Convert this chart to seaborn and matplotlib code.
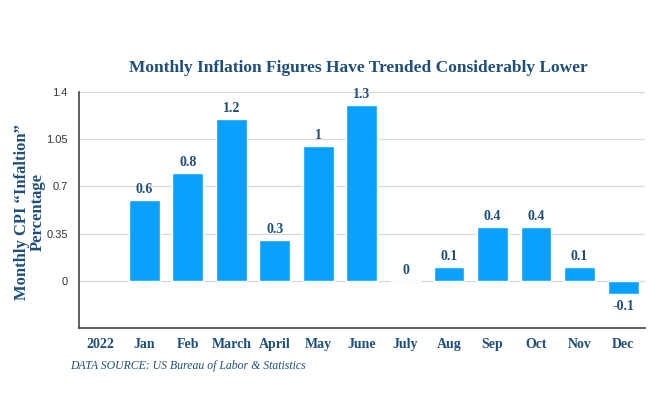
import numpy as np
import pandas as pd
import seaborn as sns
import matplotlib
matplotlib.use("Agg")
import matplotlib.pyplot as plt

months = ["2022", "Jan", "Feb", "March", "April", "May", "June",
          "July", "Aug", "Sep", "Oct", "Nov", "Dec"]
cpi = [np.nan, 0.6, 0.8, 1.2, 0.3, 1.0, 1.3, 0.0, 0.1, 0.4, 0.4, 0.1, -0.1]
value_labels = ["", "0.6", "0.8", "1.2", "0.3", "1", "1.3", "0", "0.1", "0.4", "0.4", "0.1", "-0.1"]
yticks = [0, 0.35, 0.7, 1.05, 1.4]
ytick_labels = ["0", "0.35", "0.7", "1.05", "1.4"]

navy = "#1f4e79"
bar_blue = "#0aa0fd"
serif = ["Liberation Serif", "DejaVu Serif"]

sns.set_style("white")
plt.rcParams['font.family'] = ["Liberation Sans", "DejaVu Sans"]

df = pd.DataFrame({"month": months, "cpi": cpi})

fig = plt.figure(figsize=(6.72, 3.98), dpi=100)
ax = fig.add_axes([0.1176, 0.176, 0.842, 0.593])

sns.barplot(data=df, x="month", y="cpi", color=bar_blue, width=0.71,
            saturation=1, ax=ax, zorder=3)

ax.set_ylim(-0.35, 1.4)
ax.set_yticks(yticks)
ax.set_yticklabels(ytick_labels, fontsize=8, color="#333333")
ax.set_xlim(-0.5, len(months) - 0.5)
ax.grid(axis="y", color="#d9d9d9", linewidth=0.9, zorder=0)
ax.tick_params(axis="both", length=0, pad=8)
ax.tick_params(axis="x", pad=7)
for lbl in ax.get_xticklabels():
    lbl.set_fontfamily(serif)
    lbl.set_fontweight("bold")
    lbl.set_fontsize(10)
    lbl.set_color(navy)

for s in ["top", "right"]:
    ax.spines[s].set_visible(False)
for s in ["left", "bottom"]:
    ax.spines[s].set_color("#444444")
    ax.spines[s].set_linewidth(1.2)

for i, (v, t) in enumerate(zip(cpi, value_labels)):
    if t == "":
        continue
    if v < 0:
        ax.annotate(t, (i, v), xytext=(0, -4), textcoords="offset points",
                    ha="center", va="top", fontsize=10, fontweight="bold",
                    family=serif, color=navy)
    else:
        ax.annotate(t, (i, v), xytext=(0, 3), textcoords="offset points",
                    ha="center", va="bottom", fontsize=10, fontweight="bold",
                    family=serif, color=navy)

ax.set_xlabel("")
ax.set_ylabel("Monthly CPI \u201cInfaltion\u201d\nPercentage", family=serif,
              fontweight="bold", fontsize=12, color=navy,
              linespacing=1.0)
ax.yaxis.set_label_coords(-0.058, 0.49)

fig.text(0.533, 0.83, "Monthly Inflation Figures Have Trended Considerably Lower",
         ha="center", va="center", family=serif, fontweight="bold",
         fontsize=12.5, color=navy)
fig.text(0.104, 0.08, "DATA SOURCE: US Bureau of Labor & Statistics",
         ha="left", va="center", family=serif, style="italic",
         fontsize=8.5, color=navy)

fig.savefig("out.png", dpi=100)
